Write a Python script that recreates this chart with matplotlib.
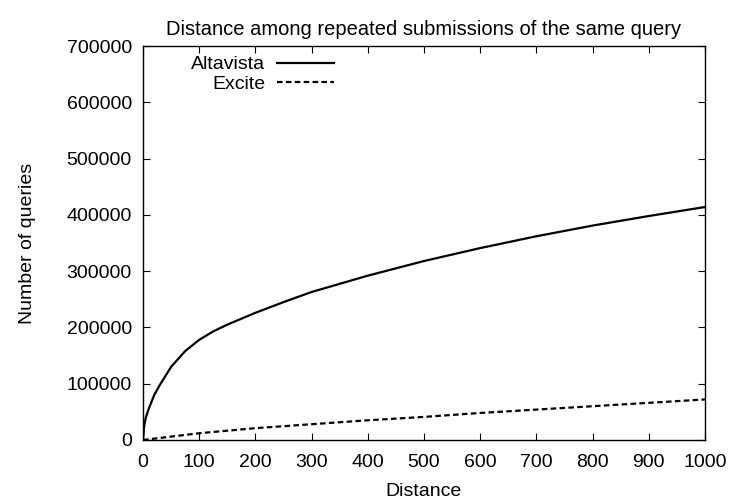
import matplotlib
matplotlib.use("Agg")
import matplotlib.pyplot as plt

# values
altavista_x = [0, 2, 5, 10, 20, 30, 50, 75, 100, 125, 150, 200, 250, 300, 400, 500, 600, 700, 800, 900, 1000]
altavista_y = [0, 25000, 40000, 55000, 80000, 98000, 130000, 158000, 178000, 193000, 205000, 226000,
               245000, 263000, 292000, 318000, 341000, 362000, 381000, 398000, 414000]

excite_x = [0, 50, 100, 200, 300, 400, 500, 600, 700, 800, 900, 1000]
excite_y = [0, 6000, 12000, 21000, 28000, 35000, 41000, 48000, 54000, 60000, 66000, 72000]

x_ticks = list(range(0, 1001, 100))
y_ticks = list(range(0, 700001, 100000))

plt.rcParams['font.family'] = ['Liberation Sans', 'DejaVu Sans']
plt.rcParams['font.size'] = 14

fig = plt.figure(figsize=(7.32, 5.01), dpi=100)
ax = fig.add_axes([0.1954, 0.1218, 0.963 - 0.1954, 0.908 - 0.1218])

ax.plot(altavista_x, altavista_y, color='black', lw=1.6, label='Altavista')
ax.plot(excite_x, excite_y, color='black', lw=1.6, linestyle=(0, (2.5, 1.5)), label='Excite')

ax.set_xlim(0, 1000)
ax.set_ylim(0, 700000)
ax.set_xticks(x_ticks)
ax.set_yticks(y_ticks)
ax.set_xticklabels([str(v) for v in x_ticks])
ax.set_yticklabels([str(v) for v in y_ticks])
ax.tick_params(direction='in', length=5, width=0.8, top=True, right=True, pad=8)
ax.tick_params(axis='x', pad=10)
for s in ax.spines.values():
    s.set_linewidth(1.0)

ax.set_title('Distance among repeated submissions of the same query', fontsize=14.5, pad=8)
ax.set_xlabel('Distance', labelpad=9)
ax.set_ylabel('Number of queries', labelpad=22)

ax.legend(loc='upper left', bbox_to_anchor=(0.055, 1.02), frameon=False, markerfirst=False,
          handlelength=2.9, handletextpad=0.6, labelspacing=0.1, fontsize=14)

fig.savefig('out.png', dpi=100)
